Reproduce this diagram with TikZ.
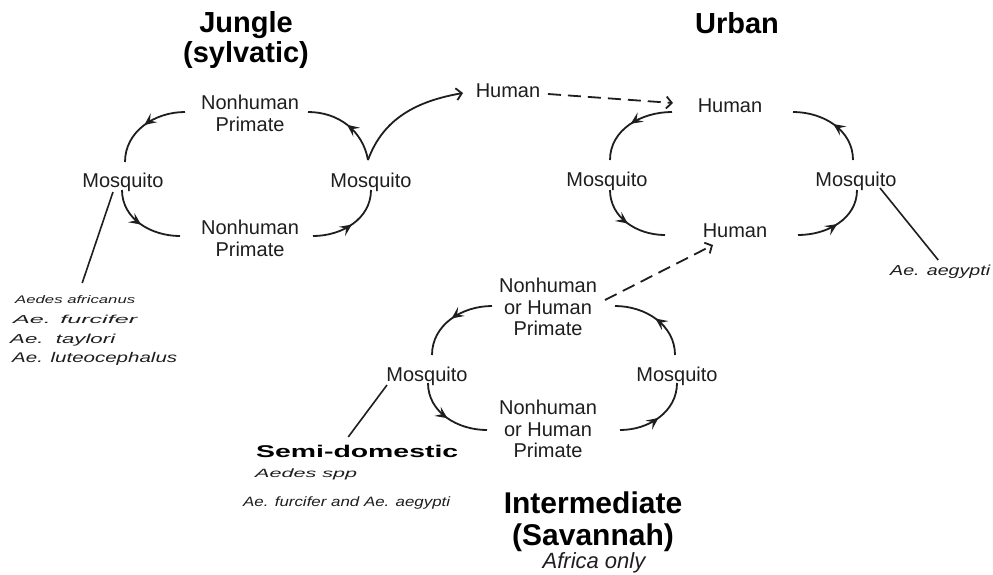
\documentclass[tikz,border=0pt]{standalone}
\usepackage{fontspec}
\setmainfont{Liberation Sans}
\usetikzlibrary{arrows.meta,decorations.markings,calc}
\definecolor{ink}{RGB}{30,30,30}
\begin{document}
\begin{tikzpicture}[x=1pt,y=1pt,
  lbl/.style={inner sep=0pt, font=\fontsize{20}{21.5}\selectfont, text=ink, align=center},
  ttl/.style={inner sep=0pt, font=\fontsize{29}{30}\selectfont\bfseries, text=black, align=center},
  spc/.style={inner sep=0pt, anchor=base west, text=ink},
  cyc/.style={draw=ink, line width=1.8pt, postaction=decorate,
    decoration={markings, mark=at position 0.5 with {\arrow{Stealth[length=12pt,width=11pt,inset=5pt]}}}},
  flow/.style={draw=ink, line width=1.8pt, -{Straight Barb[length=5.5pt,width=12pt]}},
  dashflow/.style={flow, dash pattern=on 13pt off 7pt},
  lead/.style={draw=ink, line width=1.6pt}
]
\useasboundingbox[fill=white] (0,0) rectangle (993,-574);

% titles
\node[ttl] (jt) at (246,-39.7) {Jungle\\(sylvatic)};
\node[ttl, anchor=base] (ut) at (737,-33) {Urban};
\node[ttl, font=\fontsize{30}{32}\selectfont\bfseries] (it) at (593,-521.4) {Intermediate\\(Savannah)};
\node[inner sep=0pt, anchor=base, font=\fontsize{22}{24}\selectfont\itshape, text=ink] (ao) at (594,-568.5) {Africa only};

% jungle cycle
\node[lbl] (jtp) at (250,-113.3) {Nonhuman\\Primate};
\node[lbl] (jbp) at (250,-238.3) {Nonhuman\\Primate};
\node[lbl, anchor=base] (jm1) at (123,-187) {Mosquito};
\node[lbl, anchor=base] (jm2) at (371,-187) {Mosquito};
\node[lbl, anchor=base] (hm) at (508,-97) {Human};

% urban cycle
\node[lbl, anchor=base] (uh) at (730,-112) {Human};
\node[lbl, anchor=base] (ub) at (735,-237) {Human};
\node[lbl, anchor=base] (um1) at (607,-186) {Mosquito};
\node[lbl, anchor=base] (um2) at (856,-186) {Mosquito};

% intermediate cycle
\node[lbl] (itp) at (548,-307.3) {Nonhuman\\or Human\\Primate};
\node[lbl] (ibp) at (548,-429.3) {Nonhuman\\or Human\\Primate};
\node[lbl, anchor=base] (im1) at (427,-381) {Mosquito};
\node[lbl, anchor=base] (im2) at (677,-381) {Mosquito};

% species labels
\node[spc, font=\fontsize{14.5}{16}\selectfont\itshape] (aeg) at (890,-275) {\resizebox{100pt}{\height}{Ae. aegypti}};
\node[spc, font=\fontsize{11}{12}\selectfont\itshape] (sp1) at (15,-303) {\resizebox{120pt}{\height}{Aedes africanus}};
\node[spc, font=\fontsize{11.5}{12}\selectfont\itshape] (sp2) at (13,-323) {\resizebox{124pt}{\height}{Ae. furcifer}};
\node[spc, font=\fontsize{13}{14}\selectfont\itshape] (sp3) at (10,-343) {\resizebox{105pt}{\height}{Ae.\ \ taylori}};
\node[spc, font=\fontsize{14}{15}\selectfont\itshape] (sp4) at (12,-362) {\resizebox{165pt}{\height}{Ae. luteocephalus}};
\node[spc, font=\fontsize{17}{18}\selectfont\bfseries, text=black] (sd) at (256,-457) {\resizebox{202pt}{\height}{Semi-domestic}};
\node[spc, font=\fontsize{12}{13}\selectfont\itshape] (ssp) at (255,-477) {\resizebox{102pt}{\height}{Aedes spp}};
\node[spc, font=\fontsize{13.5}{14}\selectfont\itshape] (sfa) at (243,-506) {\resizebox{207pt}{\height}{Ae. furcifer and Ae. aegypti}};

% jungle connectors
\draw[cyc] ($(jtp)+(-65,1.3)$) to[out=180,in=90] ($(jm1.base)+(2,25)$);
\draw[cyc] ($(jm2.base)+(-3,27)$) to[out=100,in=0] ($(jtp)+(58,1.3)$);
\draw[cyc] ($(jm1.base)+(-1,-3)$) to[out=-90,in=180] ($(jbp)+(-70,2.3)$);
\draw[cyc] ($(jbp)+(63,2.3)$) to[out=0,in=-90] ($(jm2.base)+(0,-3)$);
\draw[flow] ($(jm2.base)+(-3,27)$) to[out=70,in=190] ($(hm.base)+(-45,4)$);
\draw[dashflow] ($(hm.base)+(40,3)$) -- ($(uh.base)+(-57,9)$);
\draw[lead] ($(jm1.base)+(-10,-5)$) -- ($(sp1.base)+(7,20)$);

% urban connectors
\draw[cyc] ($(uh.base)+(-58,0)$) to[out=180,in=90] ($(um1.base)+(3,26)$);
\draw[cyc] ($(um2.base)+(-3,26)$) to[out=90,in=0] ($(uh.base)+(63,0)$);
\draw[cyc] ($(um1.base)+(3,-4)$) to[out=-90,in=180] ($(ub.base)+(-70,2)$);
\draw[cyc] ($(ub.base)+(63,2)$) to[out=0,in=-90] ($(um2.base)+(1,-4)$);
\draw[lead] ($(um2.base)+(24,-2)$) -- ($(aeg.base)+(-2,15)$);

% intermediate connectors
\draw[cyc] ($(itp)+(-56,1.3)$) to[out=180,in=90] ($(im1.base)+(5,26)$);
\draw[cyc] ($(im2.base)+(-2,26)$) to[out=90,in=0] ($(itp)+(67,1.3)$);
\draw[cyc] ($(im1.base)+(1,-2)$) to[out=-90,in=180] ($(ibp)+(-61,-0.7)$);
\draw[cyc] ($(ibp)+(72,-0.7)$) to[out=0,in=-90] ($(im2.base)+(0,-2)$);
\draw[dashflow] ($(itp)+(57,7.3)$) -- ($(ub.base)+(-22,-8)$);
\draw[lead] ($(im1.base)+(-40,-4)$) -- ($(sd.base)+(-9,20)$);
\end{tikzpicture}
\end{document}
